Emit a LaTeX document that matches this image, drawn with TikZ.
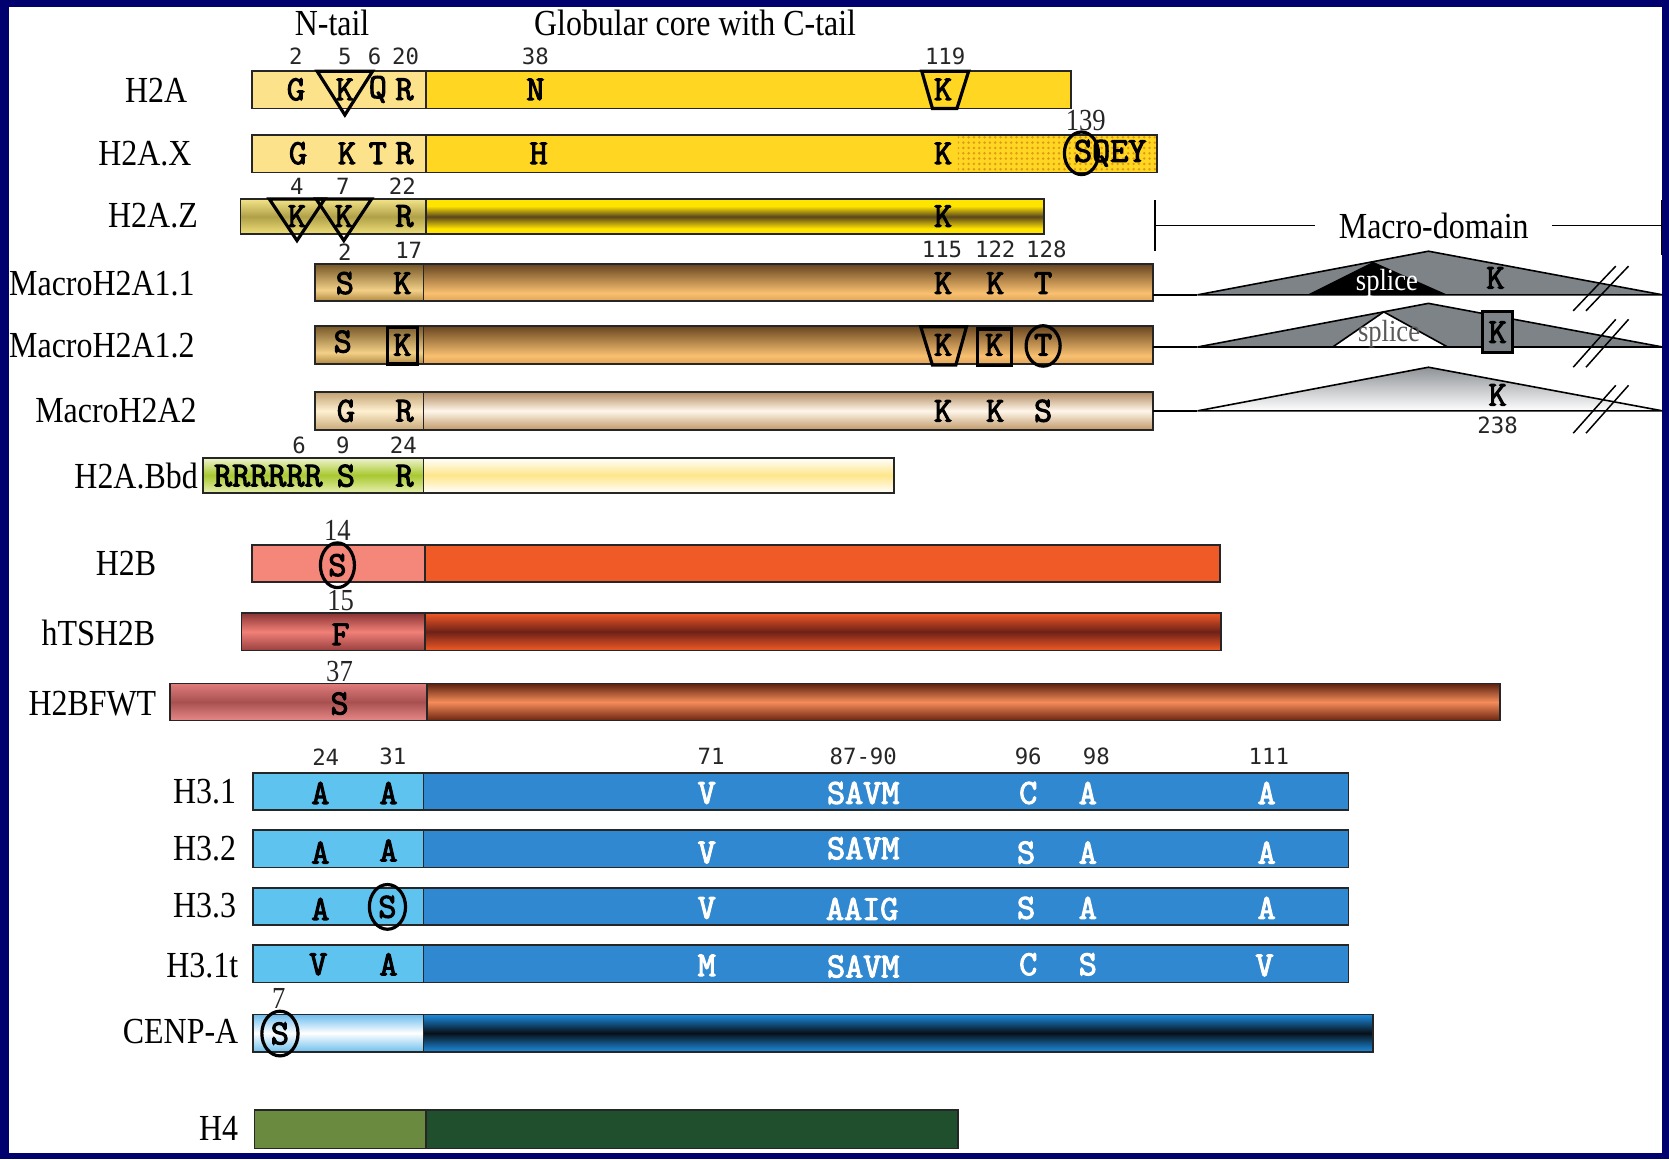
\documentclass[tikz,border=0pt]{standalone}
\usepackage{fontspec}
\usepackage{graphicx}
\setmainfont{Liberation Serif}
\newfontfamily\numf{DejaVu Sans Mono}
\newfontfamily\courb{Latin Modern Mono}[FakeBold=3]
\usetikzlibrary{patterns.meta}
\definecolor{navy}{RGB}{0,0,110}
\definecolor{yTail}{HTML}{FCE28A}
\definecolor{yCore}{HTML}{FFD622}
\definecolor{dotc}{HTML}{E09A18}
\definecolor{trigray}{HTML}{7D8387}
\definecolor{h2bT}{HTML}{F4877A}
\definecolor{h2bC}{HTML}{F05A26}
\definecolor{h3T}{HTML}{5EC3EE}
\definecolor{h3C}{HTML}{3088D0}
\definecolor{h4T}{HTML}{6A8A40}
\definecolor{h4C}{HTML}{1F4F2C}
% shading colours
\definecolor{zA}{HTML}{F0E07A}\definecolor{zB}{HTML}{B0A048}\definecolor{zC}{HTML}{F4E488}
\definecolor{zY}{HTML}{FFE400}\definecolor{zBr}{HTML}{5A461C}
\definecolor{mA}{HTML}{E0A458}\definecolor{mB}{HTML}{F8C070}\definecolor{mC}{HTML}{664420}
\definecolor{mtA}{HTML}{B08840}\definecolor{mtB}{HTML}{F2D088}\definecolor{mtC}{HTML}{765626}
\definecolor{nA}{HTML}{C09868}\definecolor{nB}{HTML}{FFF6EA}\definecolor{nC}{HTML}{B08A60}
\definecolor{ntA}{HTML}{C8A878}\definecolor{ntB}{HTML}{FFF0D0}\definecolor{ntC}{HTML}{C0A070}
\definecolor{bA}{HTML}{E8F0B0}\definecolor{bB}{HTML}{A8C830}\definecolor{bC}{HTML}{F0F4D0}
\definecolor{bcA}{HTML}{FFFFFF}\definecolor{bcB}{HTML}{FFE68A}
\definecolor{tA}{HTML}{9A4040}\definecolor{tB}{HTML}{F08078}\definecolor{tC}{HTML}{8A3434}
\definecolor{tcA}{HTML}{F05A26}\definecolor{tcB}{HTML}{6E2018}
\definecolor{fA}{HTML}{E88888}\definecolor{fB}{HTML}{A85050}\definecolor{fC}{HTML}{E07C7C}
\definecolor{fcA}{HTML}{6A2410}\definecolor{fcB}{HTML}{F58C5A}\definecolor{fcC}{HTML}{5A2010}
\definecolor{cA}{HTML}{70C0EE}\definecolor{cB}{HTML}{FFFFFF}\definecolor{cC}{HTML}{6CBCEE}
\definecolor{ccA}{HTML}{1C8CE0}\definecolor{ccB}{HTML}{081018}
\definecolor{gA}{HTML}{FFFFFF}\definecolor{gC}{HTML}{8E9296}
\pgfdeclareverticalshading{zTailS}{100bp}{color(0bp)=(zA); color(25bp)=(zA); color(50bp)=(zB); color(75bp)=(zC); color(100bp)=(zC)}
\pgfdeclareverticalshading{zCoreS}{100bp}{color(0bp)=(zY); color(25bp)=(zY); color(33bp)=(zY); color(50bp)=(zBr); color(65bp)=(zY); color(75bp)=(zY); color(100bp)=(zY)}
\pgfdeclareverticalshading{mCoreS}{100bp}{color(0bp)=(mA); color(25bp)=(mA); color(36bp)=(mB); color(75bp)=(mC); color(100bp)=(mC)}
\pgfdeclareverticalshading{mTailS}{100bp}{color(0bp)=(mtA); color(25bp)=(mtA); color(40bp)=(mtB); color(75bp)=(mtC); color(100bp)=(mtC)}
\pgfdeclareverticalshading{nCoreS}{100bp}{color(0bp)=(nA); color(25bp)=(nA); color(50bp)=(nB); color(75bp)=(nC); color(100bp)=(nC)}
\pgfdeclareverticalshading{nTailS}{100bp}{color(0bp)=(ntA); color(25bp)=(ntA); color(50bp)=(ntB); color(75bp)=(ntC); color(100bp)=(ntC)}
\pgfdeclareverticalshading{bTailS}{100bp}{color(0bp)=(bA); color(25bp)=(bA); color(50bp)=(bB); color(75bp)=(bC); color(100bp)=(bC)}
\pgfdeclareverticalshading{bCoreS}{100bp}{color(0bp)=(bcA); color(25bp)=(bcA); color(50bp)=(bcB); color(75bp)=(bcA); color(100bp)=(bcA)}
\pgfdeclareverticalshading{tTailS}{100bp}{color(0bp)=(tA); color(25bp)=(tA); color(50bp)=(tB); color(75bp)=(tC); color(100bp)=(tC)}
\pgfdeclareverticalshading{tCoreS}{100bp}{color(0bp)=(tcA); color(25bp)=(tcA); color(50bp)=(tcB); color(75bp)=(tcA); color(100bp)=(tcA)}
\pgfdeclareverticalshading{fTailS}{100bp}{color(0bp)=(fA); color(25bp)=(fA); color(50bp)=(fB); color(75bp)=(fC); color(100bp)=(fC)}
\pgfdeclareverticalshading{fCoreS}{100bp}{color(0bp)=(fcA); color(25bp)=(fcA); color(50bp)=(fcB); color(75bp)=(fcC); color(100bp)=(fcC)}
\pgfdeclareverticalshading{cTailS}{100bp}{color(0bp)=(cA); color(25bp)=(cA); color(50bp)=(cB); color(75bp)=(cC); color(100bp)=(cC)}
\pgfdeclareverticalshading{cCoreS}{100bp}{color(0bp)=(ccA); color(25bp)=(ccA); color(50bp)=(ccB); color(75bp)=(ccA); color(100bp)=(ccA)}
\pgfdeclareverticalshading{gTriS}{100bp}{color(0bp)=(gA); color(25bp)=(gA); color(75bp)=(gC); color(100bp)=(gC)}
\newcommand\St[1]{\scalebox{1}[1.15]{#1}}
\begin{document}
\begin{tikzpicture}[x=1pt,y=-1pt,
  lab/.style={anchor=east, inner sep=0pt, font=\fontsize{30}{30}\selectfont},
  head/.style={inner sep=0pt, font=\fontsize{30}{30}\selectfont},
  aa/.style={inner sep=0pt, font=\courb\fontsize{33}{33}\selectfont},
  aw/.style={aa, text=white},
  num/.style={inner sep=0pt, font=\numf\fontsize{21}{21}\selectfont, text=black!85},
  snum/.style={inner sep=0pt, font=\fontsize{25}{25}\selectfont, text=black!85},
  bx/.style={draw=black!85, line width=1.6pt},
  ring/.style={draw=black, line width=3pt},
  thinl/.style={draw=black, line width=1.5pt},
  slash/.style={draw=black, line width=1.4pt}]
\useasboundingbox (0,0) rectangle (1568,1089);
\fill[navy] (0,0) rectangle (1568,1089);
\fill[white] (8,7) rectangle (1561,1083);

% headers
\node[head] (hN) at (312,22) {\St{N-tail}};
\node[head] (hG) at (653,22) {\St{Globular core with C-tail}};

% ---------- H2A ----------
\node[lab] (lH2A) at (176,85) {\St{H2A}};
\filldraw[bx, fill=yTail] (237,67) rectangle (400,102);
\filldraw[bx, fill=yCore] (400,67) rectangle (1006,102);
\node[num] (n2a1) at (278,53) {2};
\node[num] (n2a2) at (324,53) {5};
\node[num] (n2a3) at (352,53) {6};
\node[num] (n2a4) at (381,53) {20};
\node[num] (n2a5) at (503,53) {38};
\node[num] (n2a6) at (888,53) {119};
\node[aa] (a2a1) at (278,84) {G};
\node[aa] (a2a2) at (324,84) {K};
\node[aa] (a2a3) at (355,84) {Q};
\node[aa] (a2a4) at (380,84) {R};
\node[aa] (a2a5) at (503,84) {N};
\node[aa] (a2a6) at (886,84) {K};
\draw[ring, line join=miter] (298,67) -- (350,67) -- (324,108) -- cycle;
\draw[ring] (866,67) -- (910,67) -- (899,102) -- (876,102) -- cycle;

% ---------- H2A.X ----------
\node[lab] (lH2AX) at (180,144) {\St{H2A.X}};
\filldraw[bx, fill=yTail] (237,127) rectangle (400,162);
\filldraw[bx, fill=yCore] (400,127) rectangle (1087,162);
\fill[pattern={Dots[radius=1.3pt, distance=5pt]}, pattern color=dotc] (900,128) rectangle (1086,161);
\draw[bx] (400,127) rectangle (1087,162);
\node[snum] (nx1) at (1020,113) {\St{139}};
\node[aa] (ax1) at (280,144) {G};
\node[aa] (ax2) at (326,144) {K};
\node[aa] (ax3) at (355,144) {T};
\node[aa] (ax4) at (380,144) {R};
\node[aa] (ax5) at (506,144) {H};
\node[aa] (ax6) at (886,144) {K};
\node[aa] (ax7) at (1043,144) {SQEY};
\draw[ring] (1016,144) ellipse [x radius=16pt, y radius=20pt];

% ---------- H2A.Z ----------
\node[lab] (lH2AZ) at (186,203) {\St{H2A.Z}};
\shadedraw[bx, shading=zTailS] (226,187) rectangle (400,220);
\shadedraw[bx, shading=zCoreS] (400,187) rectangle (981,220);
\node[num] (nz1) at (279,175) {4};
\node[num] (nz2) at (322,175) {7};
\node[num] (nz3) at (378,175) {22};
\node[aa] (az1) at (279,203) {K};
\node[aa] (az2) at (323,203) {K};
\node[aa] (az3) at (380,203) {R};
\node[aa] (az4) at (886,203) {K};
\draw[ring] (253,187) -- (305,187) -- (279,226) -- cycle;
\draw[ring] (297,187) -- (349,187) -- (323,226) -- cycle;

% ---------- Macro-domain header ----------
\node[head, inner xsep=22pt] (md) at (1347,212) {\St{Macro-domain}};
\coordinate (mdL) at (1085,212);
\coordinate (mdR) at (1561,212);
\draw[thinl] (1085,188) -- (1085,236);
\draw[thinl] (mdL) -- (md.west);
\draw[thinl] (md.east) -- (mdR);
\draw[thinl] (1561,188) -- (1561,240);

% ---------- MacroH2A1.1 ----------
\node[lab] (lM11) at (183,266) {\St{MacroH2A1.1}};
\shadedraw[bx, shading=mTailS] (296,248) rectangle (398,283);
\shadedraw[bx, shading=mCoreS] (398,248) rectangle (1083,283);
\node[num] (nm1) at (324,237) {2};
\node[num] (nm2) at (384,235) {17};
\node[num] (nm3) at (885,234) {115};
\node[num] (nm4) at (935,234) {122};
\node[num] (nm5) at (983,234) {128};
\node[aa] (am1) at (324,266) {S};
\node[aa] (am2) at (378,266) {K};
\node[aa] (am3) at (886,266) {K};
\node[aa] (am4) at (935,266) {K};
\node[aa] (am5) at (980,266) {T};
\coordinate (e1) at (1083,277);
\coordinate (t1a) at (1125,277);
\coordinate (t1b) at (1342,236);
\coordinate (t1c) at (1562,277);
\draw[thinl] (e1) -- (t1a);
\filldraw[thinl, fill=trigray] (t1a) -- (t1b) -- (t1c) -- cycle;
\fill[black] (1228,277) -- (1290,246) -- (1360,277) -- cycle;
\node[inner sep=0pt, font=\fontsize{25}{25}\selectfont, text=white] (sp1) at (1303,266) {\St{splice}};
\node[aa] (mk1) at (1405,261) {K};
\draw[slash] (1478,292) -- (1518,250);
\draw[slash] (1490,292) -- (1530,250);

% ---------- MacroH2A1.2 ----------
\node[lab] (lM12) at (183,325) {\St{MacroH2A1.2}};
\shadedraw[bx, shading=mTailS] (296,306) rectangle (398,342);
\shadedraw[bx, shading=mCoreS] (398,306) rectangle (1083,342);
\node[aa] (ao1) at (322,321) {S};
\node[aa] (ao2) at (378,324) {K};
\node[aa] (ao3) at (886,324) {K};
\node[aa] (ao4) at (934,324) {K};
\node[aa] (ao5) at (980,324) {T};
\draw[ring] (364,308) rectangle (392,342);
\draw[ring] (865,307) -- (908,307) -- (898,343) -- (876,343) -- cycle;
\draw[ring] (918,309) rectangle (950,343);
\draw[ring] (980,325) ellipse [x radius=16pt, y radius=19pt];
\coordinate (e2) at (1083,326);
\coordinate (t2a) at (1125,326);
\coordinate (t2b) at (1342,285);
\coordinate (t2c) at (1562,326);
\draw[thinl] (e2) -- (t2a);
\filldraw[thinl, fill=trigray] (t2a) -- (t2b) -- (t2c) -- cycle;
\filldraw[thinl, fill=white] (1252,326) -- (1300,293) -- (1360,326) -- cycle;
\node[inner sep=0pt, font=\fontsize{25}{25}\selectfont, text=black!65] (sp2) at (1305,314) {\St{splice}};
\filldraw[ring, fill=trigray] (1393,293) rectangle (1421,331);
\node[aa] (mk2) at (1407,312) {K};
\draw[slash] (1478,345) -- (1518,300);
\draw[slash] (1490,345) -- (1530,300);

% ---------- MacroH2A2 ----------
\node[lab] (lM2) at (185,386) {\St{MacroH2A2}};
\shadedraw[bx, shading=nTailS] (296,368) rectangle (398,404);
\shadedraw[bx, shading=nCoreS] (398,368) rectangle (1083,404);
\node[aa] (ap1) at (325,386) {G};
\node[aa] (ap2) at (380,386) {R};
\node[aa] (ap3) at (886,386) {K};
\node[aa] (ap4) at (935,386) {K};
\node[aa] (ap5) at (980,386) {S};
\coordinate (e3) at (1083,386);
\coordinate (t3a) at (1125,386);
\coordinate (t3b) at (1342,345);
\coordinate (t3c) at (1562,386);
\draw[thinl] (e3) -- (t3a);
\shadedraw[thinl, shading=gTriS] (t3a) -- (t3b) -- (t3c) -- cycle;
\node[aa] (mk3) at (1407,371) {K};
\node[num] (n238) at (1407,400) {238};
\draw[slash] (1478,407) -- (1518,362);
\draw[slash] (1490,407) -- (1530,362);

% ---------- H2A.Bbd ----------
\node[lab] (lBbd) at (186,447) {\St{H2A.Bbd}};
\shadedraw[bx, shading=bTailS] (191,430) rectangle (398,463);
\shadedraw[bx, shading=bCoreS] (398,430) rectangle (840,463);
\node[num] (nb1) at (281,418) {6};
\node[num] (nb2) at (322,418) {9};
\node[num] (nb3) at (379,418) {24};
\node[aa] (ab1) at (252,447) {RRRRRR};
\node[aa] (ab2) at (325,447) {S};
\node[aa] (ab3) at (380,447) {R};

% ---------- H2B ----------
\node[lab] (lH2B) at (147,529) {\St{H2B}};
\filldraw[bx, fill=h2bT] (237,512) rectangle (399,547);
\filldraw[bx, fill=h2bC] (399,512) rectangle (1146,547);
\node[snum] (nh1) at (317,498) {\St{14}};
\node[aa] (ah1) at (317,531) {S};
\draw[ring] (317,531) ellipse [x radius=16pt, y radius=21pt];

% ---------- hTSH2B ----------
\node[lab] (lTS) at (146,595) {\St{hTSH2B}};
\shadedraw[bx, shading=tTailS] (227,576) rectangle (399,611);
\shadedraw[bx, shading=tCoreS] (399,576) rectangle (1147,611);
\node[snum] (nt1) at (320,564) {\St{15}};
\node[aa] (at1) at (320,596) {F};

% ---------- H2BFWT ----------
\node[lab] (lFW) at (147,661) {\St{H2BFWT}};
\shadedraw[bx, shading=fTailS] (160,642) rectangle (401,677);
\shadedraw[bx, shading=fCoreS] (401,642) rectangle (1409,677);
\node[snum] (nf1) at (319,631) {\St{37}};
\node[aa] (af1) at (319,661) {S};

% ---------- H3 numbers ----------
\node[num] (n31a) at (306,711) {24};
\node[num] (n31b) at (369,711) {31};
\node[num] (n31c) at (668,711) {71};
\node[num] (n31d) at (811,711) {87-90};
\node[num] (n31e) at (966,711) {96};
\node[num] (n31f) at (1030,711) {98};
\node[num] (n31g) at (1192,711) {111};

% ---------- H3.1 ----------
\node[lab] (lH31) at (222,744) {\St{H3.1}};
\filldraw[bx, fill=h3T] (238,726) rectangle (398,761);
\filldraw[bx, fill=h3C] (398,726) rectangle (1267,761);
\node[aa] (q1a) at (301,745) {A};
\node[aa] (q1b) at (365,745) {A};
\node[aw] (q1c) at (664,745) {V};
\node[aw] (q1d) at (811,745) {SAVM};
\node[aw] (q1e) at (966,745) {C};
\node[aw] (q1f) at (1022,745) {A};
\node[aw] (q1g) at (1190,745) {A};

% ---------- H3.2 ----------
\node[lab] (lH32) at (222,797) {\St{H3.2}};
\filldraw[bx, fill=h3T] (238,780) rectangle (398,815);
\filldraw[bx, fill=h3C] (398,780) rectangle (1267,815);
\node[aa] (q2a) at (301,801) {A};
\node[aa] (q2b) at (365,799) {A};
\node[aw] (q2c) at (664,801) {V};
\node[aw] (q2d) at (811,797) {SAVM};
\node[aw] (q2e) at (964,801) {S};
\node[aw] (q2f) at (1022,801) {A};
\node[aw] (q2g) at (1190,801) {A};

% ---------- H3.3 ----------
\node[lab] (lH33) at (222,851) {\St{H3.3}};
\filldraw[bx, fill=h3T] (238,834) rectangle (398,869);
\filldraw[bx, fill=h3C] (398,834) rectangle (1267,869);
\node[aa] (q3a) at (301,854) {A};
\node[aa] (q3b) at (364,852) {S};
\draw[ring] (364,852) ellipse [x radius=17pt, y radius=21pt];
\node[aw] (q3c) at (664,853) {V};
\node[aw] (q3d) at (810,854) {AAIG};
\node[aw] (q3e) at (964,853) {S};
\node[aw] (q3f) at (1022,853) {A};
\node[aw] (q3g) at (1190,853) {A};

% ---------- H3.1t ----------
\node[lab] (lH31t) at (224,907) {\St{H3.1t}};
\filldraw[bx, fill=h3T] (238,888) rectangle (398,923);
\filldraw[bx, fill=h3C] (398,888) rectangle (1267,923);
\node[aa] (q4a) at (299,906) {V};
\node[aa] (q4b) at (365,906) {A};
\node[aw] (q4c) at (664,907) {M};
\node[aw] (q4d) at (811,908) {SAVM};
\node[aw] (q4e) at (966,906) {C};
\node[aw] (q4f) at (1022,906) {S};
\node[aw] (q4g) at (1188,907) {V};

% ---------- CENP-A ----------
\node[lab] (lCEN) at (224,969) {\St{CENP-A}};
\shadedraw[bx, shading=cTailS] (238,953) rectangle (398,988);
\shadedraw[bx, shading=cCoreS] (398,953) rectangle (1290,988);
\node[snum] (nc1) at (262,938) {\St{7}};
\node[aa] (ac1) at (263,971) {S};
\draw[ring] (263,971) ellipse [x radius=17pt, y radius=21pt];

% ---------- H4 ----------
\node[lab] (lH4) at (224,1060) {\St{H4}};
\filldraw[bx, fill=h4T] (239,1043) rectangle (400,1079);
\filldraw[bx, fill=h4C] (400,1043) rectangle (900,1079);
\end{tikzpicture}
\end{document}
